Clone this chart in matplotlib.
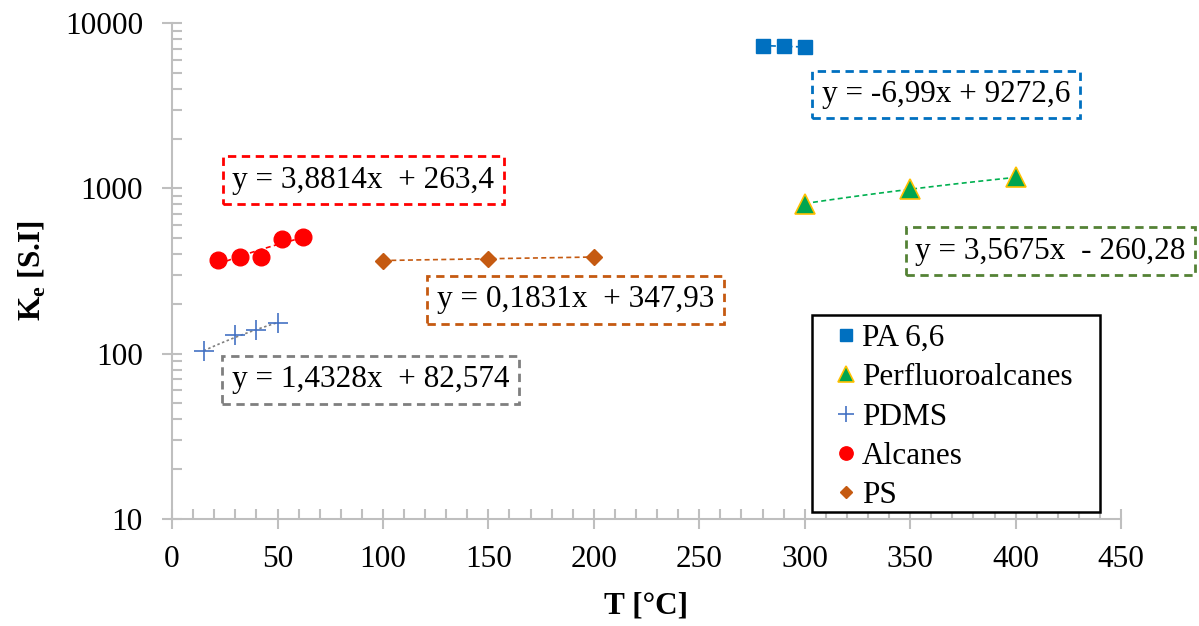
import numpy as np
import matplotlib
matplotlib.use("Agg")
import matplotlib.pyplot as plt
from matplotlib.patches import Rectangle
from matplotlib.ticker import MultipleLocator, LogLocator, FuncFormatter, NullFormatter

plt.rcParams['font.family'] = ['Liberation Serif', 'DejaVu Serif']
plt.rcParams['mathtext.fontset'] = 'custom'
plt.rcParams['mathtext.rm'] = 'Liberation Serif'
plt.rcParams['mathtext.bf'] = 'Liberation Serif:bold'

# données
pa_x = [280, 290, 300]
pa_y = [7315, 7245, 7175]
pf_x = [300, 350, 400]
pf_y = [810, 988, 1167]
pdms_x = [15, 30, 40, 50]
pdms_y = [104, 130, 140, 153]
alc_x = [22, 32, 42, 52, 62]
alc_y = [368, 385, 385, 495, 510]
ps_x = [100, 150, 200]
ps_y = [366, 375, 385]

# équations des courbes de tendance (pente, ordonnée)
pa_fit = (-6.99, 9272.6)
pf_fit = (3.5675, -260.28)
pdms_fit = (1.4328, 82.574)
alc_fit = (3.8814, 263.4)
ps_fit = (0.1831, 347.93)

eq_labels = ["y = -6,99x + 9272,6", "y = 3,5675x  - 260,28", "y = 1,4328x  + 82,574",
             "y = 3,8814x  + 263,4", "y = 0,1831x  + 347,93"]

FS = 22.5

fig = plt.figure(figsize=(11.99, 6.26), dpi=100)
ax = fig.add_axes([0.1435, 0.171, 0.7915, 0.792])

def trend(xs, fit, color, ls):
    xx = np.linspace(min(xs), max(xs), 50)
    ax.plot(xx, fit[0] * xx + fit[1], color=color, ls=ls, lw=1.2, zorder=2)

trend(pa_x, pa_fit, "#0070C0", (0, (3, 2)))
trend(pf_x, pf_fit, "#00B050", (0, (3, 2)))
trend(pdms_x, pdms_fit, "#808080", (0, (1.5, 1.5)))
trend(alc_x, alc_fit, "#FF0000", (0, (3, 2)))
trend(ps_x, ps_fit, "#C55A11", (0, (3, 2)))

ax.plot(pa_x, pa_y, "s", color="#0070C0", ms=10, ls="none", label="PA 6,6", zorder=3)
ax.plot(pf_x, pf_y, "^", mfc="#00A550", mec="#FFC000", mew=1.2, ms=14, ls="none",
        label="Perfluoroalcanes", zorder=3)
ax.plot(pdms_x, pdms_y, "+", color="#4472C4", ms=14, mew=1.2, ls="none", label="PDMS", zorder=3)
ax.plot(alc_x, alc_y, "o", color="#FF0000", ms=12, ls="none", label="Alcanes", zorder=3)
ax.plot(ps_x, ps_y, "D", color="#C55A11", ms=8, ls="none", label="PS", zorder=3)

ax.set_yscale("log")
ax.set_xlim(0, 450)
ax.set_ylim(10, 10000)
ax.xaxis.set_major_locator(MultipleLocator(50))
ax.xaxis.set_minor_locator(MultipleLocator(10))
ax.yaxis.set_major_locator(LogLocator(base=10))
ax.yaxis.set_minor_locator(LogLocator(base=10, subs=np.arange(2, 10)))
ax.yaxis.set_major_formatter(FuncFormatter(lambda v, p: "%d" % v))
ax.yaxis.set_minor_formatter(NullFormatter())

for s in ["top", "right"]:
    ax.spines[s].set_visible(False)
for s in ["left", "bottom"]:
    ax.spines[s].set_color("#BFBFBF")
    ax.spines[s].set_linewidth(1.5)
ax.tick_params(which="major", direction="inout", length=14, width=1.5, color="#BFBFBF",
               labelsize=FS)
ax.tick_params(axis="x", which="major", pad=12)
ax.tick_params(axis="y", which="major", pad=14)
ax.tick_params(which="minor", direction="in", length=7, width=1.5, color="#BFBFBF")

ax.set_xlabel("T [°C]", fontsize=FS, fontweight="bold", labelpad=12)
ax.set_ylabel(r"K$_\mathbf{e}$ [S.I]", fontsize=FS, fontweight="bold", labelpad=12)

# étiquettes des équations (coordonnées figure)
boxes = [(0.789, 0.849, "#0070C0"), (0.876, 0.599, "#548235"), (0.309, 0.393, "#7F7F7F"),
         (0.303, 0.712, "#FF0000"), (0.480, 0.521, "#C55A11")]
for (bx, by, c), txt in zip(boxes, eq_labels):
    fig.text(bx, by, txt, fontsize=FS, ha="center", va="center",
             bbox=dict(boxstyle="square,pad=0.3", fc="white", ec=c, ls=(0, (3, 2)), lw=2))

# cadre de la légende
ax.add_patch(Rectangle((0.674, 0.014), 0.304, 0.397, transform=ax.transAxes, fc="white",
                       ec="black", lw=1.8, zorder=4, clip_on=False))
leg = ax.legend(loc="upper left", bbox_to_anchor=(0.6975, 0.393), fontsize=FS, frameon=False,
                handlelength=0.8, handletextpad=0.1, borderpad=0, labelspacing=0.33,
                borderaxespad=0, markerscale=0.8)
leg.set_zorder(5)

fig.savefig("out.png", dpi=100)
